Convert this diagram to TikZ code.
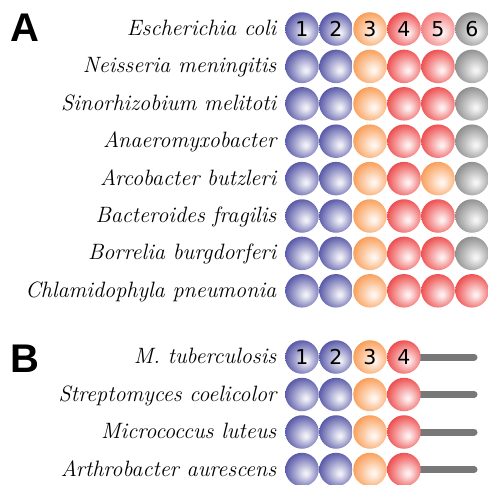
\documentclass[tikz,border=0pt]{standalone}
\usepackage{fontspec}
\newfontfamily\labfont{Liberation Sans}[UprightFont=*-Bold]
\newfontfamily\numfont{DejaVu Sans}
\usetikzlibrary{backgrounds}
\definecolor{cB}{RGB}{92,92,170}
\definecolor{cO}{RGB}{250,160,92}
\definecolor{cR}{RGB}{238,82,82}
\definecolor{cP}{RGB}{245,130,130}
\definecolor{cG}{RGB}{145,145,145}
\definecolor{cstalk}{RGB}{120,120,120}
\newcommand\mkshade[1]{%
  \pgfdeclareradialshading{ball#1}{\pgfpoint{6bp}{-6bp}}{%
    color(0bp)=(white!92!c#1); color(3bp)=(white!88!c#1); color(18bp)=(white!35!c#1);
    color(28bp)=(c#1); color(33bp)=(c#1!85!black); color(50bp)=(c#1!70!black)}}
\mkshade{B}\mkshade{O}\mkshade{R}\mkshade{P}\mkshade{G}
\begin{document}
\begin{tikzpicture}[x=1pt,y=-1pt,
  ball/.style={circle,minimum size=33.5pt,inner sep=0pt,shade,shading=ball#1,
    font=\numfont\fontsize{20.5}{20.5}\selectfont},
  sp/.style={anchor=base east,inner sep=0pt,font=\rmfamily\itshape\fontsize{22.2}{24}\selectfont},
  panel/.style={font=\labfont\fontsize{40}{40}\selectfont,inner sep=0pt},
  stalk/.style={line width=7pt,draw=cstalk,line cap=round}]
\useasboundingbox (0,0) rectangle (488,485);
\node[panel] (A) at (25,28) {A};
\node[panel] (B) at (25,358.5) {B};
% panel A
\foreach \nm/\cols [count=\i] in {
  {Escherichia coli}/{B,B,O,R,P,G},
  {Neisseria meningitis}/{B,B,O,R,R,G},
  {Sinorhizobium melitoti}/{B,B,O,R,R,G},
  {Anaeromyxobacter}/{B,B,O,R,R,G},
  {Arcobacter butzleri}/{B,B,O,R,O,G},
  {Bacteroides fragilis}/{B,B,O,R,R,G},
  {Borrelia burgdorferi}/{B,B,O,R,R,G},
  {Chlamidophyla pneumonia}/{B,B,O,R,R,R}}{
  \pgfmathsetmacro\yy{29+37.4*(\i-1)}
  \node[sp] (ta\i) at (276.5,\yy+6.5) {\nm};
  \foreach \c [count=\j] in \cols {
    \pgfmathtruncatemacro\show{\i==1}
    \node[ball=\c] (a\i-\j) at ({302+34*(\j-1)},\yy) {\ifnum\show=1 \j\fi};
  }
}
% panel B
\foreach \nm [count=\i] in {{M. tuberculosis},{Streptomyces coelicolor},{Micrococcus luteus},{Arthrobacter aurescens}}{
  \pgfmathsetmacro\yy{357+37.5*(\i-1)}
  \node[sp] (tb\i) at (276.5,\yy+6.5) {\nm};
  \coordinate (e\i) at (474,\yy);
  \foreach \c [count=\j] in {B,B,O,R} {
    \pgfmathtruncatemacro\show{\i==1}
    \node[ball=\c] (b\i-\j) at ({302+34*(\j-1)},\yy) {\ifnum\show=1 \j\fi};
  }
  \begin{scope}[on background layer]
    \draw[stalk] (b\i-4.center) -- (e\i);
  \end{scope}
}
\end{tikzpicture}
\end{document}
